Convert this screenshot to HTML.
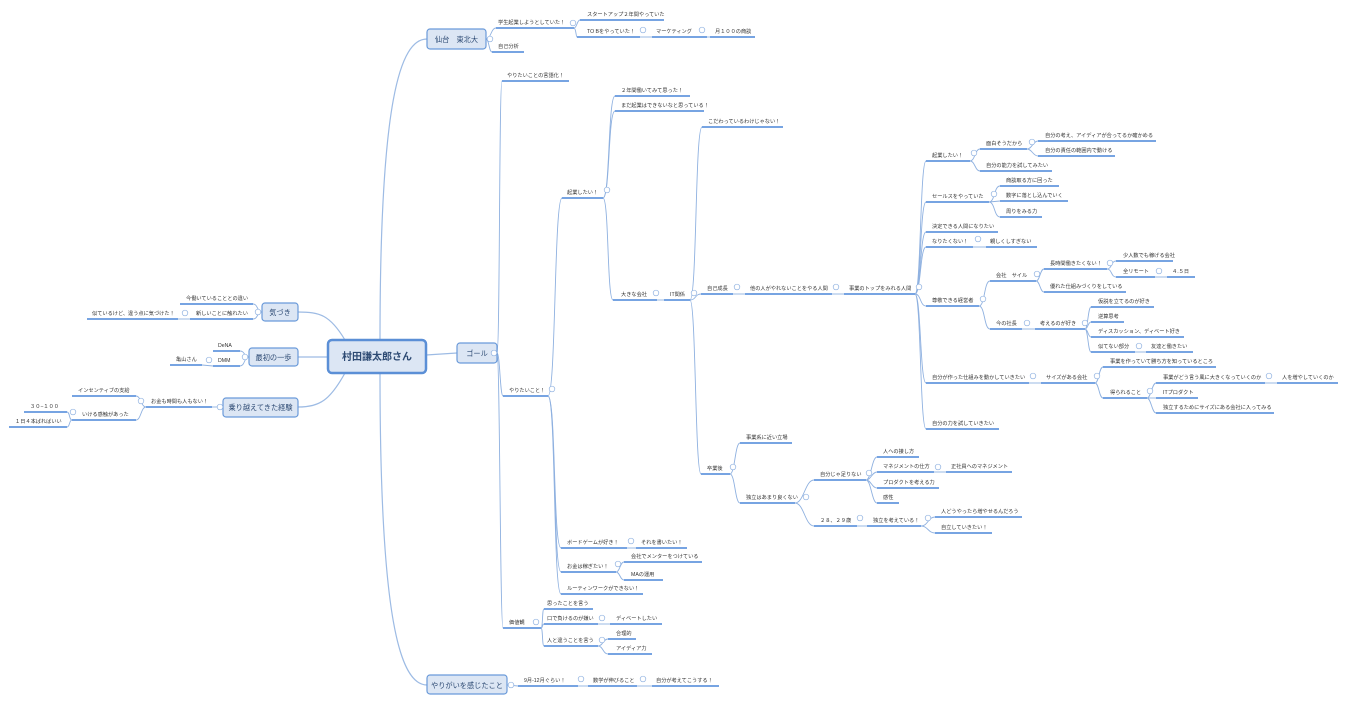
<!DOCTYPE html>
<html><head><meta charset="utf-8"><style>
html,body{margin:0;padding:0;background:#fff;}
svg{display:block;}
text{font-family:"Liberation Sans","Noto Sans CJK JP",sans-serif;font-size:5.2px;fill:#333;}
.u{stroke:#4a86d8;stroke-width:1.4;}
.c{fill:none;stroke:#8fb1e0;stroke-width:0.9;}
.m{fill:none;stroke:#9dbbe4;stroke-width:1.2;}
.b{fill:#dce6f4;stroke:#6a9ad9;stroke-width:1.2;}
.bt{font-size:7.2px;fill:#2d4a73;text-anchor:middle;}
.t{fill:#fff;stroke:#8fb1e0;stroke-width:0.7;}
</style></head><body>
<svg width="1347" height="703" viewBox="0 0 1347 703" xmlns="http://www.w3.org/2000/svg">
<path class="m" d="M380,340 C380,100 400,39 427,39"/>
<path class="m" d="M426,355 L457,353"/>
<path class="m" d="M380,373 C380,620 400,685 427,685"/>
<path class="m" d="M345,340 C330,315 320,312 298,312"/>
<path class="m" d="M329,357 L298,357"/>
<path class="m" d="M345,373 C330,400 320,407 298,407"/>

<g class="c">
<path d="M486,39 C491,39 491,28 496,28"/>
<path d="M486,39 C489,39 489,52 492,52"/>
<path d="M574,28 C577,28 577,20 580,20"/>
<path d="M574,28 C576,28 576,37 577,37"/>
<path d="M640,37 L652,37"/><path d="M707,37 L710,37"/>
<path d="M497,353 C500,353 499,81 502,81"/>
<path d="M497,353 C500,353 500,396 503,396"/>
<path d="M497,353 C500,353 500,628 503,628"/>
<path d="M548,396 C556,396 554,198 562,198"/>
<path d="M548,396 C556,396 553,548 561,548"/>
<path d="M548,396 C556,396 553,572 561,572"/>
<path d="M548,396 C556,396 553,594 561,594"/>
<path d="M627,548 L636,548"/>
<path d="M616,572 C620,572 620,562 624,562"/>
<path d="M616,572 C620,572 620,580 624,580"/>
<path d="M603,198 C610,198 608,96 615,96"/>
<path d="M603,198 C610,198 608,111 615,111"/>
<path d="M603,198 C609,198 607,300 613,300"/>
<path d="M657,300 L664,300"/>
<path d="M690,300 C697,300 695,127 702,127"/>
<path d="M690,300 C696,300 695,294 701,294"/>
<path d="M690,300 C696,300 695,474 701,474"/>
<path d="M733,294 L745,294"/><path d="M832,294 L844,294"/>
<path d="M915,294 C921,294 920,161 926,161"/>
<path d="M915,294 C921,294 920,202 926,202"/>
<path d="M915,294 C921,294 920,232 926,232"/>
<path d="M915,294 C921,294 920,247 926,247"/>
<path d="M915,294 C921,294 920,306 926,306"/>
<path d="M915,294 C921,294 920,383 926,383"/>
<path d="M915,294 C921,294 920,429 926,429"/>
<path d="M970,161 C975,161 975,149 980,149"/>
<path d="M970,161 C975,161 975,171 980,171"/>
<path d="M1027,149 C1032,149 1033,141 1038,141"/>
<path d="M1027,149 C1032,149 1033,156 1038,156"/>
<path d="M989,202 C995,202 994,186 1000,186"/>
<path d="M989,202 L1000,201"/>
<path d="M989,202 C995,202 994,217 1000,217"/>
<path d="M973,247 L986,247"/>
<path d="M979,306 C985,306 984,281 990,281"/>
<path d="M979,306 C985,306 984,329 990,329"/>
<path d="M1036,281 C1040,281 1040,269 1044,269"/>
<path d="M1036,281 C1040,281 1040,292 1044,292"/>
<path d="M1107,269 C1112,269 1111,261 1116,261"/>
<path d="M1107,269 C1112,269 1111,277 1116,277"/>
<path d="M1155,277 L1167,277"/>
<path d="M1022,329 L1035,329"/>
<path d="M1085,329 C1088,329 1088,307 1091,307"/>
<path d="M1085,329 C1088,329 1088,322 1091,322"/>
<path d="M1085,329 C1088,329 1088,337 1091,337"/>
<path d="M1085,329 C1088,329 1088,352 1091,352"/>
<path d="M1135,352 L1146,352"/>
<path d="M1029,383 L1041,383"/>
<path d="M1095,383 C1099,383 1099,367 1103,367"/>
<path d="M1095,383 C1099,383 1099,398 1103,398"/>
<path d="M1147,398 C1151,398 1152,383 1156,383"/>
<path d="M1147,398 L1156,398"/>
<path d="M1147,398 C1151,398 1152,413 1156,413"/>
<path d="M1265,383 L1277,383"/>
<path d="M730,474 C735,474 735,443 740,443"/>
<path d="M730,474 C735,474 735,503 740,503"/>
<path d="M795,503 C804,503 805,480 814,480"/>
<path d="M795,503 C804,503 805,526 814,526"/>
<path d="M866,480 C871,480 872,457 877,457"/>
<path d="M866,480 C871,480 872,472 877,472"/>
<path d="M866,480 C871,480 872,488 877,488"/>
<path d="M866,480 C871,480 872,503 877,503"/>
<path d="M934,472 L946,472"/>
<path d="M857,526 L867,526"/>
<path d="M921,526 C928,526 928,517 935,517"/>
<path d="M921,526 C928,526 928,533 935,533"/>
<path d="M541,628 C543,628 542,609 544,609"/>
<path d="M541,628 C543,628 542,624 544,624"/>
<path d="M541,628 C543,628 542,646 544,646"/>
<path d="M598,624 L610,624"/>
<path d="M598,646 C603,646 603,639 608,639"/>
<path d="M598,646 C603,646 603,654 608,654"/>
<path d="M507,685 L518,686"/><path d="M578,686 L588,686"/><path d="M637,686 L652,686"/>
<path d="M262,312 C257,312 258,304 253,304"/>
<path d="M262,312 C257,312 258,319 253,319"/>
<path d="M190,319 L178,319"/>
<path d="M249,357 C244,357 245,351 240,351"/>
<path d="M249,357 C244,357 245,366 240,366"/>
<path d="M213,366 L202,365"/>
<path d="M223,407 L212,407"/>
<path d="M146,407 C141,407 141,396 136,396"/>
<path d="M146,407 C141,407 141,420 136,420"/>
<path d="M72,420 C69,420 70,412 67,412"/>
<path d="M72,420 C69,420 70,427 67,427"/>
</g>

<g class="u">
<line x1="496" y1="28" x2="574" y2="28"/><line x1="580" y1="20" x2="664" y2="20"/>
<line x1="577" y1="37" x2="640" y2="37"/><line x1="652" y1="37" x2="707" y2="37"/><line x1="710" y1="37" x2="755" y2="37"/>
<line x1="492" y1="52" x2="524" y2="52"/>
<line x1="502" y1="81" x2="569" y2="81"/>
<line x1="503" y1="396" x2="548" y2="396"/>
<line x1="503" y1="628" x2="541" y2="628"/>
<line x1="562" y1="198" x2="603" y2="198"/>
<line x1="561" y1="548" x2="627" y2="548"/><line x1="636" y1="548" x2="687" y2="548"/>
<line x1="561" y1="572" x2="616" y2="572"/><line x1="624" y1="562" x2="702" y2="562"/><line x1="624" y1="580" x2="663" y2="580"/>
<line x1="561" y1="594" x2="643" y2="594"/>
<line x1="615" y1="96" x2="690" y2="96"/><line x1="615" y1="111" x2="704" y2="111"/>
<line x1="613" y1="300" x2="657" y2="300"/><line x1="664" y1="300" x2="690" y2="300"/>
<line x1="702" y1="127" x2="783" y2="127"/>
<line x1="701" y1="294" x2="733" y2="294"/><line x1="745" y1="294" x2="832" y2="294"/><line x1="844" y1="294" x2="915" y2="294"/>
<line x1="701" y1="474" x2="730" y2="474"/>
<line x1="926" y1="161" x2="970" y2="161"/><line x1="980" y1="149" x2="1027" y2="149"/>
<line x1="1038" y1="141" x2="1156" y2="141"/><line x1="1038" y1="156" x2="1115" y2="156"/>
<line x1="980" y1="171" x2="1052" y2="171"/>
<line x1="926" y1="202" x2="989" y2="202"/><line x1="1000" y1="186" x2="1059" y2="186"/><line x1="1000" y1="201" x2="1068" y2="201"/><line x1="1000" y1="217" x2="1042" y2="217"/>
<line x1="926" y1="232" x2="998" y2="232"/>
<line x1="926" y1="247" x2="973" y2="247"/><line x1="986" y1="247" x2="1037" y2="247"/>
<line x1="926" y1="306" x2="979" y2="306"/>
<line x1="990" y1="281" x2="1036" y2="281"/><line x1="1044" y1="269" x2="1107" y2="269"/>
<line x1="1116" y1="261" x2="1173" y2="261"/><line x1="1116" y1="277" x2="1155" y2="277"/><line x1="1167" y1="277" x2="1195" y2="277"/>
<line x1="1044" y1="292" x2="1126" y2="292"/>
<line x1="990" y1="329" x2="1022" y2="329"/><line x1="1035" y1="329" x2="1085" y2="329"/>
<line x1="1091" y1="307" x2="1154" y2="307"/><line x1="1091" y1="322" x2="1124" y2="322"/><line x1="1091" y1="337" x2="1184" y2="337"/>
<line x1="1091" y1="352" x2="1135" y2="352"/><line x1="1146" y1="352" x2="1193" y2="352"/>
<line x1="926" y1="383" x2="1029" y2="383"/><line x1="1041" y1="383" x2="1095" y2="383"/>
<line x1="1103" y1="367" x2="1216" y2="367"/><line x1="1103" y1="398" x2="1147" y2="398"/>
<line x1="1156" y1="383" x2="1265" y2="383"/><line x1="1277" y1="383" x2="1338" y2="383"/>
<line x1="1156" y1="398" x2="1198" y2="398"/><line x1="1156" y1="413" x2="1274" y2="413"/>
<line x1="926" y1="429" x2="999" y2="429"/>
<line x1="740" y1="443" x2="792" y2="443"/><line x1="740" y1="503" x2="795" y2="503"/>
<line x1="814" y1="480" x2="866" y2="480"/>
<line x1="877" y1="457" x2="919" y2="457"/><line x1="877" y1="472" x2="934" y2="472"/><line x1="946" y1="472" x2="1012" y2="472"/>
<line x1="877" y1="488" x2="939" y2="488"/><line x1="877" y1="503" x2="899" y2="503"/>
<line x1="814" y1="526" x2="857" y2="526"/><line x1="867" y1="526" x2="921" y2="526"/>
<line x1="935" y1="517" x2="1022" y2="517"/><line x1="935" y1="533" x2="992" y2="533"/>
<line x1="544" y1="609" x2="593" y2="609"/><line x1="544" y1="624" x2="598" y2="624"/><line x1="610" y1="624" x2="662" y2="624"/>
<line x1="544" y1="646" x2="598" y2="646"/><line x1="608" y1="639" x2="636" y2="639"/><line x1="608" y1="654" x2="652" y2="654"/>
<line x1="518" y1="686" x2="578" y2="686"/><line x1="588" y1="686" x2="637" y2="686"/><line x1="652" y1="686" x2="719" y2="686"/>
<line x1="180" y1="304" x2="253" y2="304"/><line x1="190" y1="319" x2="253" y2="319"/><line x1="87" y1="319" x2="178" y2="319"/>
<line x1="213" y1="351" x2="240" y2="351"/><line x1="213" y1="366" x2="240" y2="366"/><line x1="170" y1="365" x2="202" y2="365"/>
<line x1="146" y1="407" x2="212" y2="407"/><line x1="72" y1="396" x2="136" y2="396"/><line x1="72" y1="420" x2="136" y2="420"/>
<line x1="24" y1="412" x2="67" y2="412"/><line x1="9" y1="427" x2="67" y2="427"/>
</g>

<rect x="328" y="340" width="98" height="33" rx="4" fill="#dce6f4" stroke="#5b8fd6" stroke-width="2.5"/>
<text x="377" y="360" class="bt" style="font-size:10px;font-weight:bold;">村田謙太郎さん</text>
<rect class="b" x="427" y="29" width="59" height="20" rx="3"/><text class="bt" x="456.5" y="42">仙台　東北大</text>
<rect class="b" x="457" y="343" width="40" height="20" rx="3"/><text class="bt" x="477" y="356">ゴール</text>
<rect class="b" x="427" y="675" width="80" height="19" rx="3"/><text class="bt" x="467" y="688">やりがいを感じたこと</text>
<rect class="b" x="262" y="303" width="36" height="18" rx="3"/><text class="bt" x="280" y="315">気づき</text>
<rect class="b" x="249" y="348" width="49" height="18" rx="3"/><text class="bt" x="273.5" y="360">最初の一歩</text>
<rect class="b" x="223" y="398" width="75" height="19" rx="3"/><text class="bt" x="260.5" y="410">乗り越えてきた経験</text>

<text x="498" y="24">学生起業しようとしていた！</text>
<text x="587" y="16">スタートアップ２年間やっていた</text>
<text x="587" y="33">TO Bをやっていた！</text>
<text x="656" y="33">マーケティング</text>
<text x="715" y="33">月１００の商談</text>
<text x="498" y="48">自己分析</text>
<text x="507" y="77">やりたいことの言語化！</text>
<text x="509" y="392">やりたいこと！</text>
<text x="509" y="624">価値観</text>
<text x="567" y="194">起業したい！</text>
<text x="567" y="544">ボードゲームが好き！</text>
<text x="641" y="544">それを書いたい！</text>
<text x="567" y="568">お金は稼ぎたい！</text>
<text x="631" y="558">会社でメンターをつけている</text>
<text x="631" y="576">MAの運用</text>
<text x="567" y="590">ルーティンワークができない！</text>
<text x="621" y="92">２年間働いてみて思った！</text>
<text x="621" y="107">まだ起業はできないなと思っている！</text>
<text x="621" y="296">大きな会社</text>
<text x="670" y="296">IT関係</text>
<text x="708" y="123">こだわっているわけじゃない！</text>
<text x="707" y="290">自己成長</text>
<text x="750" y="290">他の人がやれないことをやる人間</text>
<text x="849" y="290">事業のトップをみれる人間</text>
<text x="707" y="470">卒業後</text>
<text x="932" y="157">起業したい！</text>
<text x="986" y="145">面白そうだから</text>
<text x="1045" y="137">自分の考え、アイディアが合ってるか確かめる</text>
<text x="1045" y="152">自分の責任の範囲内で動ける</text>
<text x="986" y="167">自分の能力を試してみたい</text>
<text x="932" y="198">セールスをやっていた</text>
<text x="1006" y="182">商談取る方に回った</text>
<text x="1006" y="197">数字に落とし込んでいく</text>
<text x="1006" y="213">周りをみる力</text>
<text x="932" y="228">決定できる人間になりたい</text>
<text x="932" y="243">なりたくない！</text>
<text x="990" y="243">親しくしすぎない</text>
<text x="932" y="302">尊敬できる経営者</text>
<text x="996" y="277">会社　サイル</text>
<text x="1050" y="265">長時間働きたくない！</text>
<text x="1123" y="257">少人数でも稼げる会社</text>
<text x="1123" y="273">全リモート</text>
<text x="1172" y="273">４.５日</text>
<text x="1050" y="288">優れた仕組みづくりをしている</text>
<text x="996" y="325">今の社長</text>
<text x="1040" y="325">考えるのが好き</text>
<text x="1098" y="303">仮説を立てるのが好き</text>
<text x="1098" y="318">逆算思考</text>
<text x="1098" y="333">ディスカッション、ディベート好き</text>
<text x="1098" y="348">似てない部分</text>
<text x="1151" y="348">友達と働きたい</text>
<text x="932" y="379">自分が作った仕組みを動かしていきたい</text>
<text x="1046" y="379">サイズがある会社</text>
<text x="1110" y="363">事業を作っていて勝ち方を知っているところ</text>
<text x="1110" y="394">得られること</text>
<text x="1163" y="379">事業がどう言う風に大きくなっていくのか</text>
<text x="1282" y="379">人を増やしていくのか</text>
<text x="1163" y="394">ITプロダクト</text>
<text x="1163" y="409">独立するためにサイズにある会社に入ってみる</text>
<text x="932" y="425">自分の力を試していきたい</text>
<text x="746" y="439">事業系に近い立場</text>
<text x="746" y="499">独立はあまり良くない</text>
<text x="820" y="476">自分じゃ足りない</text>
<text x="883" y="453">人への接し方</text>
<text x="883" y="468">マネジメントの仕方</text>
<text x="951" y="468">正社員へのマネジメント</text>
<text x="883" y="484">プロダクトを考える力</text>
<text x="883" y="499">感性</text>
<text x="820" y="522">２８、２９歳</text>
<text x="873" y="522">独立を考えている！</text>
<text x="941" y="513">人どうやったら増やせるんだろう</text>
<text x="941" y="529">自立していきたい！</text>
<text x="547" y="605">思ったことを言う</text>
<text x="547" y="620">口で負けるのが嫌い</text>
<text x="616" y="620">ディベートしたい</text>
<text x="547" y="642">人と違うことを言う</text>
<text x="616" y="635">合理的</text>
<text x="616" y="650">アイディア力</text>
<text x="524" y="682">9月-12月ぐらい！</text>
<text x="593" y="682">数学が伸びること</text>
<text x="656" y="682">自分が考えてこうする！</text>
<text x="186" y="300">今働いていることとの違い</text>
<text x="196" y="315">新しいことに触れたい</text>
<text x="92" y="315">似ているけど、違う点に気づけた！</text>
<text x="218" y="347">DeNA</text>
<text x="218" y="362">DMM</text>
<text x="176" y="361">亀山さん</text>
<text x="151" y="403">お金も時間も人もない！</text>
<text x="78" y="392">インセンティブの支給</text>
<text x="82" y="416">いける感触があった</text>
<text x="30" y="408">３０−１００</text>
<text x="15" y="423">１日４本ばればいい</text>

<g class="t">
<circle cx="490" cy="39" r="2.8"/><circle cx="494" cy="353" r="2.8"/><circle cx="511" cy="685" r="2.8"/>
<circle cx="258" cy="312" r="2.8"/><circle cx="245" cy="357" r="2.8"/><circle cx="220" cy="407" r="2.8"/>
<circle cx="573" cy="23" r="2.8"/><circle cx="643" cy="30" r="2.8"/><circle cx="702" cy="30" r="2.8"/>
<circle cx="552" cy="389" r="2.8"/><circle cx="536" cy="622" r="2.8"/><circle cx="607" cy="190" r="2.8"/>
<circle cx="631" cy="541" r="2.8"/><circle cx="618" cy="564" r="2.8"/><circle cx="656" cy="293" r="2.8"/><circle cx="694" cy="293" r="2.8"/>
<circle cx="737" cy="287" r="2.8"/><circle cx="836" cy="287" r="2.8"/><circle cx="919" cy="287" r="2.8"/><circle cx="733" cy="467" r="2.8"/>
<circle cx="974" cy="153" r="2.8"/><circle cx="1032" cy="142" r="2.8"/><circle cx="994" cy="194" r="2.8"/><circle cx="978" cy="239" r="2.8"/>
<circle cx="983" cy="299" r="2.8"/><circle cx="1037" cy="274" r="2.8"/><circle cx="1110" cy="263" r="2.8"/><circle cx="1159" cy="271" r="2.8"/>
<circle cx="1027" cy="323" r="2.8"/><circle cx="1085" cy="323" r="2.8"/><circle cx="1139" cy="346" r="2.8"/>
<circle cx="1033" cy="376" r="2.8"/><circle cx="1097" cy="376" r="2.8"/><circle cx="1150" cy="391" r="2.8"/><circle cx="1269" cy="376" r="2.8"/>
<circle cx="806" cy="497" r="2.8"/><circle cx="869" cy="473" r="2.8"/><circle cx="938" cy="467" r="2.8"/><circle cx="860" cy="518" r="2.8"/><circle cx="928" cy="518" r="2.8"/>
<circle cx="602" cy="618" r="2.8"/><circle cx="602" cy="640" r="2.8"/><circle cx="581" cy="679" r="2.8"/><circle cx="643" cy="679" r="2.8"/>
<circle cx="185" cy="313" r="2.8"/><circle cx="209" cy="360" r="2.8"/><circle cx="141" cy="401" r="2.8"/><circle cx="73" cy="412" r="2.8"/>
</g>
</svg>
</body></html>
